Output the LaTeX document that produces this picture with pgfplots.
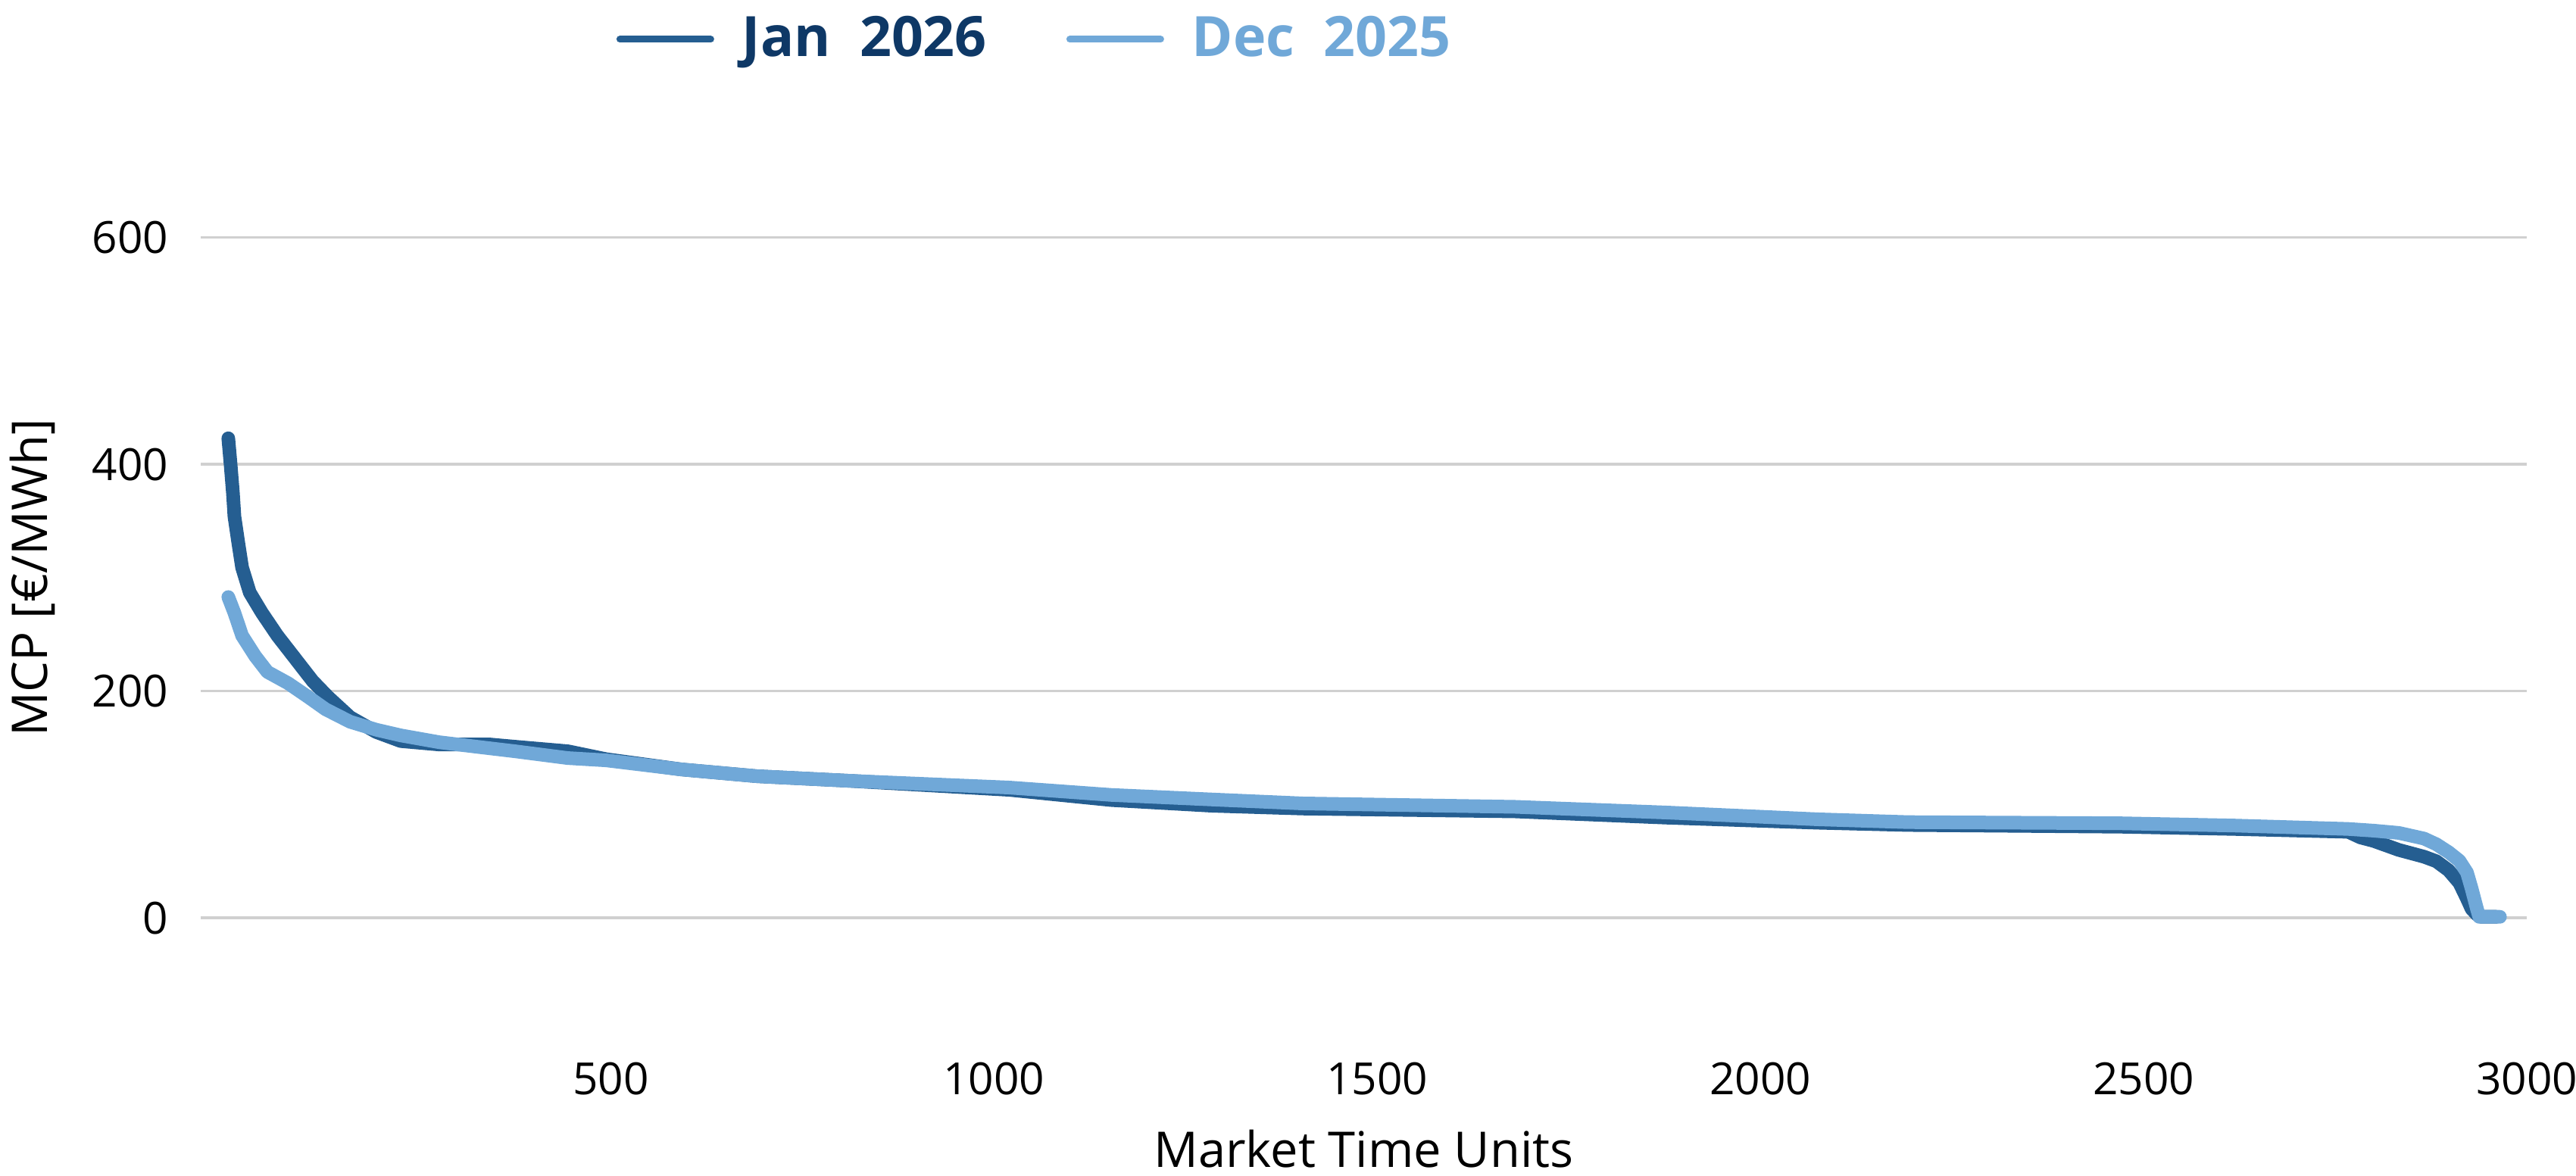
\documentclass[border=0pt]{standalone}
\usepackage{fontspec}
\setmainfont{Open Sans}
\usepackage{pgfplots}
\pgfplotsset{compat=1.18}
\usepackage{pgfplotstable}

\definecolor{janline}{RGB}{37,94,145}
\definecolor{jantext}{RGB}{14,56,102}
\definecolor{decline}{RGB}{112,168,216}
\definecolor{gridgray}{RGB}{208,208,208}

% price duration curves
\pgfplotstableread{
x y
1 423
4 400
7 375
9 354
14 331
19 309
29 287
45 269
65 249
88 229
111 209
131 195
160 177
194 164
226 156
276 153
342 153
375 151
444 147
494 140
592 131
691 125
810 121
1020 113
1153 104
1284 99
1403 96.5
1680 94
1877 88.5
2075 84
2193 82
2470 80.5
2618 78.5
2767 76
2783 71
2800 68
2833 60
2866 54
2882 50
2898 42
2912 31
2922 17
2928 8
2935 3
2940 1
2960 1
}\jan

\pgfplotstableread{
x y
1 283
9 269
19 249
36 231
52 217
79 207
105 195
128 184
160 173
194 166
226 161
276 155
325 151
375 147
444 141
494 139
592 131
691 125
810 121
1020 115
1153 108.5
1284 104.5
1403 101
1680 98
1877 93
2075 87
2193 84.5
2470 83.5
2618 81.5
2767 78.5
2800 77
2833 75
2866 70
2882 65
2898 58
2912 50.5
2922 40
2928 26
2935 8
2938 1
2965 1
}\dec

\begin{document}
\begin{tikzpicture}
\path[use as bounding box] (-53pt,-38.2pt) rectangle (627.2pt,272.4pt);
\begin{axis}[
    at={(0,0)}, anchor=south west,
    scale only axis,
    width=614.2pt, height=239.6pt,
    xmin=-35, xmax=3000,
    ymin=-100, ymax=700,
    xtick={500,1000,1500,2000,2500,3000},
    ytick={0,200,400,600},
    ymajorgrids,
    grid style={gridgray, line width=0.7pt},
    axis line style={draw=none},
    major tick length=0pt,
    /pgf/number format/assume math mode=true,
    /pgf/number format/set thousands separator={},
    tick label style={font=\fontsize{11.7}{14}\selectfont, inner sep=0pt},
    xticklabel style={anchor=center, yshift=-12.6pt},
    yticklabel style={anchor=east, xshift=-8.4pt},
    xlabel={Market Time Units},
    ylabel={MCP [€/MWh]},
    label style={font=\fontsize{13}{15}\selectfont},
    xlabel style={at={(axis description cs:0.5,0)}, anchor=center, yshift=-31pt},
    ylabel style={at={(axis description cs:0,0.5)}, anchor=center, rotate=0, yshift=44.4pt},
    legend columns=2,
    legend style={at={(axis description cs:0.1784,1.0935)}, anchor=west,
        draw=none, fill=none, inner sep=0pt,
        nodes={inner sep=0pt, font=\fontsize{14.7}{17}\bfseries},
        /tikz/every odd column/.append style={column sep=7.4pt},
        /tikz/every even column/.append style={column sep=21pt}},
    legend image code/.code={\draw[#1, line width=1.8pt, line cap=round] (0pt,0pt) -- (24pt,0pt);},
    every axis plot/.append style={line width=3.6pt, line cap=round, line join=round, no markers},
]
\addplot[janline] table {\jan};
\addlegendentry{\textcolor{jantext}{Jan\ \ 2026}}
\addplot[decline] table {\dec};
\addlegendentry{\textcolor{decline}{Dec\ \ 2025}}
\end{axis}
\end{tikzpicture}
\end{document}
